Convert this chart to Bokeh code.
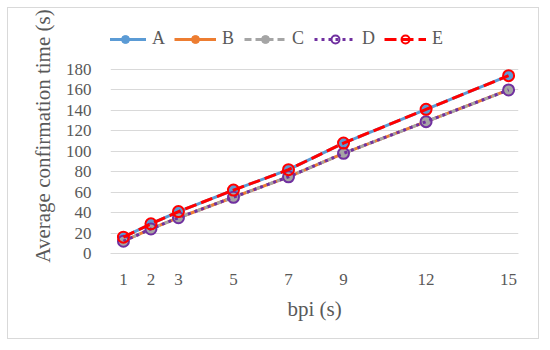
from bokeh.plotting import figure
from bokeh.models import ColumnDataSource, FixedTicker, Legend, LegendItem
from bokeh.embed import file_html
from bokeh.resources import INLINE

bpi = [1, 2, 3, 5, 7, 9, 12, 15]
series_a = [16, 29, 41, 62, 82, 108, 141, 174]
series_b = [12, 24, 35, 55, 75, 98, 129, 160]
series_c = [12, 24, 35, 55, 75, 98, 129, 160]
series_d = [12, 24, 35, 55, 75, 98, 129, 160]
series_e = [16, 29, 41, 62, 82, 108, 141, 174]
names = ["A", "B", "C", "D", "E"]
y_ticks = [0, 20, 40, 60, 80, 100, 120, 140, 160, 180]

FONT = "Liberation Serif"
TXT = "#595959"
GRID = "#d9d9d9"

p = figure(width=532, height=332, output_backend="svg", toolbar_location=None,
           x_range=(0.53, 15.36), y_range=(0, 229.9),
           min_border_left=102, min_border_right=22, min_border_top=10, min_border_bottom=87)
p.styles = {"border": "1px solid #d9d9d9", "margin-left": "7px", "margin-top": "7px"}
p.outline_line_color = None
p.background_fill_color = "white"
p.border_fill_color = "white"

src = ColumnDataSource(dict(x=bpi, a=series_a, b=series_b, c=series_c, d=series_d, e=series_e))

items = []
la = p.line("x", "a", source=src, line_color="#5B9BD5", line_width=3)
ma = p.scatter("x", "a", source=src, size=10, fill_color="#5B9BD5", line_color="#5B9BD5")
items.append(LegendItem(label=names[0], renderers=[la, ma]))
lb = p.line("x", "b", source=src, line_color="#ED7D31", line_width=3)
mb = p.scatter("x", "b", source=src, size=10, fill_color="#ED7D31", line_color="#ED7D31")
items.append(LegendItem(label=names[1], renderers=[lb, mb]))
lc = p.line("x", "c", source=src, line_color="#A5A5A5", line_width=3, line_dash="7 4")
mc = p.scatter("x", "c", source=src, size=10, fill_color="#A5A5A5", line_color="#A5A5A5")
items.append(LegendItem(label=names[2], renderers=[lc, mc]))
ld = p.line("x", "d", source=src, line_color="#7030A0", line_width=3, line_dash="3 4")
md = p.scatter("x", "d", source=src, size=11, fill_color=None, line_color="#7030A0", line_width=2)
items.append(LegendItem(label=names[3], renderers=[ld, md]))
le = p.line("x", "e", source=src, line_color="#FF0000", line_width=3, line_dash="12 5")
me = p.scatter("x", "e", source=src, size=11, fill_color=None, line_color="#FF0000", line_width=2)
items.append(LegendItem(label=names[4], renderers=[le, me]))

legend = Legend(items=items, orientation="horizontal", location=(-6, 204),
                label_text_font=FONT, label_text_font_size="18px", label_text_color=TXT,
                glyph_width=42, glyph_height=20, label_standoff=6, spacing=2,
                background_fill_alpha=0, border_line_color=None, padding=0, margin=0)
p.add_layout(legend, "center")

p.xgrid.grid_line_color = None
p.ygrid.grid_line_color = GRID
p.ygrid.grid_line_width = 1

p.xaxis.ticker = FixedTicker(ticks=bpi)
p.yaxis.ticker = FixedTicker(ticks=y_ticks)
p.xaxis.axis_line_color = GRID
p.xaxis.axis_line_width = 1
p.yaxis.axis_line_color = None
for ax in (p.xaxis, p.yaxis):
    ax.major_tick_line_color = None
    ax.minor_tick_line_color = None
    ax.major_label_text_font = FONT
    ax.major_label_text_font_size = "17px"
    ax.major_label_text_color = TXT
    ax.axis_label_text_font = FONT
    ax.axis_label_text_font_size = "21px"
    ax.axis_label_text_font_style = "normal"
    ax.axis_label_text_color = TXT
p.xaxis.major_label_standoff = 14
p.yaxis.major_label_standoff = 13
p.xaxis.axis_label = "bpi (s)"
p.yaxis.axis_label = "Average confirmation time (s)"
p.xaxis.axis_label_standoff = 9
p.yaxis.axis_label_standoff = 8

open("out.html", "w").write(file_html(p, INLINE))
